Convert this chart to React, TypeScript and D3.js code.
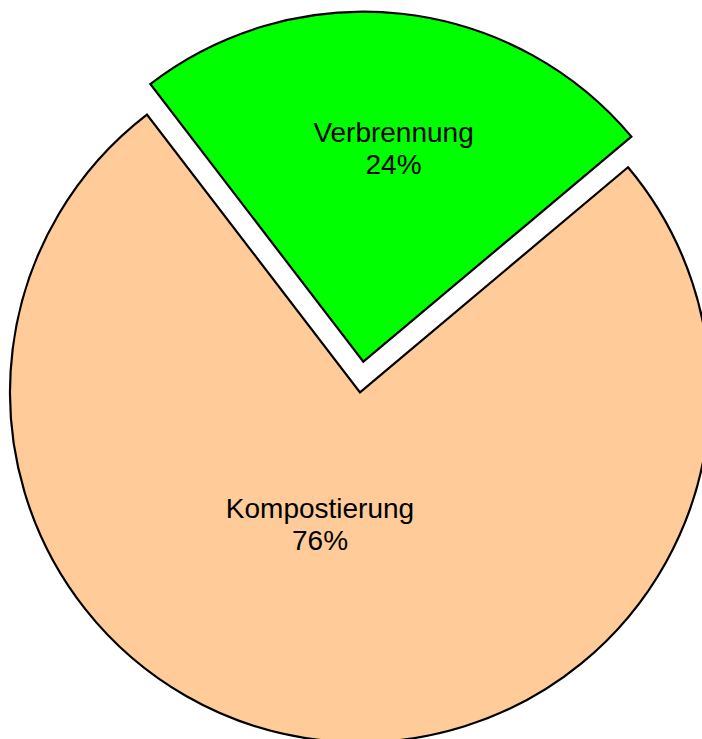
import React from "react";
import * as d3 from "d3";

const categories = ["Verbrennung", "Kompostierung"];
const values = [24.3, 75.7];
const colors = ["#00FF00", "#FFCC99"];

const W = 702;
const H = 739;
const CX = 360;
const CY = 392.3;
const R = 350;
const EXPLODE = [30.8, 0];
// label placement tweaks (radius fraction, angle nudge in degrees)
const LABEL_K = [0.633, 0.377];
const LABEL_NUDGE = [1.6, 11.4];
const START = (-37.5 * Math.PI) / 180;

export default function App() {
  const total = d3.sum(values);
  const pie = d3
    .pie<number>()
    .sort(null)
    .value((d) => d)
    .startAngle(START)
    .endAngle(START + 2 * Math.PI);
  const arcs = pie(values);
  const arcGen = d3.arc<d3.PieArcDatum<number>>().innerRadius(0).outerRadius(R);

  return (
    <svg
      width={W}
      height={H}
      style={{ position: "absolute", left: 0, top: 0, background: "#fff" }}
    >
      {arcs.map((a, i) => {
        const mid = (a.startAngle + a.endAngle) / 2;
        const ox = Math.sin(mid) * EXPLODE[i];
        const oy = -Math.cos(mid) * EXPLODE[i];
        return (
          <g key={i} transform={`translate(${CX + ox},${CY + oy})`}>
            <path
              d={arcGen(a) || ""}
              fill={colors[i]}
              stroke="#000"
              strokeWidth={2.2}
              strokeLinejoin="miter"
            />
          </g>
        );
      })}
      {arcs.map((a, i) => {
        const mid = (a.startAngle + a.endAngle) / 2;
        const ox = Math.sin(mid) * EXPLODE[i];
        const oy = -Math.cos(mid) * EXPLODE[i];
        const la = mid + (LABEL_NUDGE[i] * Math.PI) / 180;
        const lr = R * LABEL_K[i];
        const x = CX + ox + Math.sin(la) * lr;
        const y = CY + oy - Math.cos(la) * lr;
        const pct = Math.round((values[i] / total) * 100) + "%";
        return (
          <text
            key={"t" + i}
            x={x}
            y={y}
            textAnchor="middle"
            fontFamily="'Liberation Sans', Arial, sans-serif"
            fontSize={28}
            fill="#000"
          >
            <tspan x={x}>{categories[i]}</tspan>
            <tspan x={x} dy={31.8}>
              {pct}
            </tspan>
          </text>
        );
      })}
    </svg>
  );
}
